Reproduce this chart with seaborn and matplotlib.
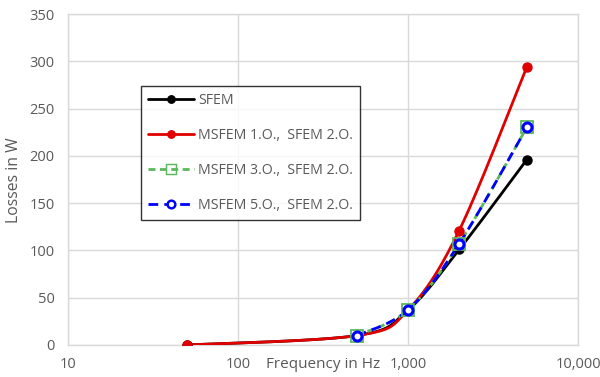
import numpy as np
import pandas as pd
import matplotlib
matplotlib.use("Agg")
import matplotlib.pyplot as plt
from matplotlib.lines import Line2D
from matplotlib.ticker import FixedLocator, FuncFormatter, NullLocator
import seaborn as sns

# Loss values per method (frequency in Hz, losses in W)
freq_sfem = [50, 500, 1000, 2000, 5000]
loss_sfem = [0, 10, 37, 101, 196]

freq_ms1 = [50, 500, 1000, 2000, 5000]
loss_ms1 = [0, 10, 37, 121, 294]

freq_ms3 = [500, 1000, 2000, 5000]
loss_ms3 = [10, 37, 107, 230]

freq_ms5 = [500, 1000, 2000, 5000]
loss_ms5 = [10, 37, 107, 230]

labels = ["SFEM", "MSFEM 1.O.,  SFEM 2.O.", "MSFEM 3.O.,  SFEM 2.O.", "MSFEM 5.O.,  SFEM 2.O."]
x_ticks = [10, 100, 1000, 10000]
y_ticks = [0, 50, 100, 150, 200, 250, 300, 350]

sns.set_theme(style="white")
plt.rcParams["font.family"] = ["Open Sans", "DejaVu Sans"]
GREY = "#595959"
GRID = "#d9d9d9"


def smooth(xs, ys, n=40):
    """Catmull-Rom style smoothing in log-frequency space."""
    lx = np.log10(np.asarray(xs, float))
    y = np.asarray(ys, float)
    px, py = [], []
    for i in range(len(lx) - 1):
        p0 = (lx[max(i - 1, 0)], y[max(i - 1, 0)])
        p1 = (lx[i], y[i])
        p2 = (lx[i + 1], y[i + 1])
        p3 = (lx[min(i + 2, len(lx) - 1)], y[min(i + 2, len(lx) - 1)])
        c1 = (p1[0] + (p2[0] - p0[0]) / 6, p1[1] + (p2[1] - p0[1]) / 6)
        c2 = (p2[0] - (p3[0] - p1[0]) / 6, p2[1] - (p3[1] - p1[1]) / 6)
        t = np.linspace(0, 1, n)
        for k in range(2):
            pts = [p1[k], c1[k], c2[k], p2[k]]
            b = ((1 - t) ** 3 * pts[0] + 3 * (1 - t) ** 2 * t * pts[1]
                 + 3 * (1 - t) * t ** 2 * pts[2] + t ** 3 * pts[3])
            (px if k == 0 else py).extend(b)
    return 10 ** np.array(px), np.array(py)


fig = plt.figure(figsize=(6.0, 3.77), dpi=100)
ax = fig.add_axes([68 / 600, 1 - 345 / 377, 510 / 600, 331 / 377])

series = [
    dict(x=freq_sfem, y=loss_sfem, color="#000000", ls="-", marker="o", mfc="#000000", ms=6.5, mew=1.0),
    dict(x=freq_ms1, y=loss_ms1, color="#e00000", ls="-", marker="o", mfc="#e00000", ms=6.5, mew=1.0),
    dict(x=freq_ms3, y=loss_ms3, color="#5cb85c", ls=(0, (2.5, 1.6)), marker="s", mfc="none", ms=8.5, mew=1.3),
    dict(x=freq_ms5, y=loss_ms5, color="#0000ff", ls=(0, (3.5, 2.2)), marker="o", mfc="white", ms=6.5, mew=2.2),
]

handles = []
for s, lab in zip(series, labels):
    sx, sy = smooth(s["x"], s["y"])
    df = pd.DataFrame({"f": sx, "loss": sy})
    sns.lineplot(data=df, x="f", y="loss", ax=ax, color=s["color"], linewidth=2.0,
                 sort=False, estimator=None, zorder=3)
    ax.lines[-1].set_linestyle(s["ls"])
    ax.plot(s["x"], s["y"], linestyle="none", marker=s["marker"], markersize=s["ms"],
            markerfacecolor=s["mfc"], markeredgecolor=s["color"], markeredgewidth=s["mew"], zorder=4)
    handles.append(Line2D([], [], color=s["color"], linestyle=s["ls"], linewidth=2.0,
                          marker=s["marker"], markersize=s["ms"] * 0.85, markerfacecolor=s["mfc"],
                          markeredgecolor=s["color"], markeredgewidth=s["mew"] * 0.8))

ax.set_xscale("log")
ax.set_xlim(10, 10000)
ax.set_ylim(0, 350)
ax.xaxis.set_major_locator(FixedLocator(x_ticks))
ax.xaxis.set_minor_locator(NullLocator())
ax.xaxis.set_major_formatter(FuncFormatter(lambda v, p: f"{int(round(v)):,}"))
ax.set_yticks(y_ticks)
ax.grid(True, color=GRID, linewidth=1.0)
ax.set_axisbelow(True)
for sp in ax.spines.values():
    sp.set_color(GRID)
    sp.set_linewidth(1.0)
ax.tick_params(axis="both", length=0, labelsize=10.5, colors=GREY)
ax.tick_params(axis="x", pad=8.5)
ax.tick_params(axis="y", pad=9.5)
ax.set_xlabel("")
ax.set_ylabel("")

fig.text(14 / 600, 1 - 180 / 377, "Losses in W", rotation=90, ha="center", va="center",
         fontsize=11.3, color=GREY)
fig.text(323 / 600, 1 - 365 / 377, "Frequency in Hz", ha="center", va="center",
         fontsize=11, color=GREY)

leg = ax.legend(handles=handles, labels=labels, loc="upper left",
                bbox_to_anchor=((141 - 68) / 510, (345 - 86) / 331),
                fontsize=10.2, labelcolor=GREY, frameon=True, fancybox=False,
                handlelength=3.25, handletextpad=0.3, labelspacing=1.4,
                borderpad=0.5, borderaxespad=0)
leg.get_frame().set_edgecolor("#000000")
leg.get_frame().set_linewidth(1.0)
leg.set_zorder(10)

fig.savefig("out.png", dpi=100)
